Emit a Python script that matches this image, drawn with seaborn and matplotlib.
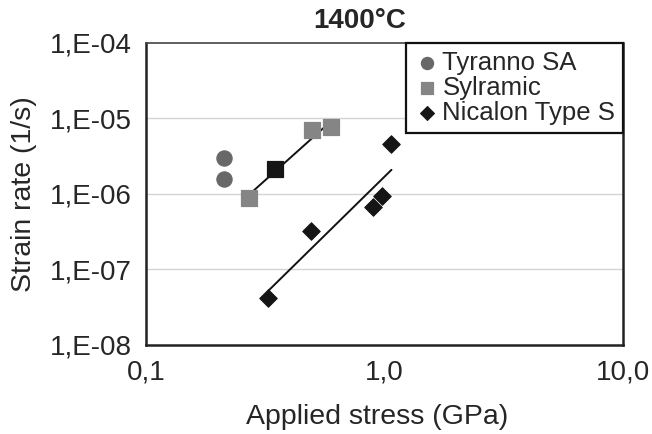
import numpy as np
import matplotlib
matplotlib.use("Agg")
import matplotlib.pyplot as plt
from matplotlib.ticker import FixedLocator, FixedFormatter
import seaborn as sns

# data (stress in GPa, strain rate in 1/s)
tyranno_x = [0.213, 0.213]
tyranno_y = [2.98e-6, 1.57e-6]

sylramic_x = [0.271, 0.498, 0.599]
sylramic_y = [8.9e-7, 6.95e-6, 7.6e-6]
sylramic_dark_x = [0.348]
sylramic_dark_y = [2.13e-6]

nicalon_x = [0.326, 0.493, 0.891, 0.981, 1.07]
nicalon_y = [4.16e-8, 3.26e-7, 6.74e-7, 9.4e-7, 4.55e-6]

x_ticks = [0.1, 1.0, 10.0]
x_tick_labels = ["0,1", "1,0", "10,0"]
y_ticks = [1e-8, 1e-7, 1e-6, 1e-5, 1e-4]
y_tick_labels = ["1,E-08", "1,E-07", "1,E-06", "1,E-05", "1,E-04"]

sns.set_style("white")
plt.rcParams["font.family"] = ["Liberation Sans", "DejaVu Sans"]

fig = plt.figure(figsize=(6.52, 4.34), dpi=100)
ax = fig.add_axes([0.2239, 0.2051, 0.7316, 0.6959])
ax.set_xscale("log")
ax.set_yscale("log")

for yv in y_ticks[1:-1]:
    ax.axhline(yv, color="#d4d4d4", lw=1.0, zorder=0)


def power_fit(xs, ys):
    lx, ly = np.log10(xs), np.log10(ys)
    k, b = np.polyfit(lx, ly, 1)
    xx = np.array([min(xs), max(xs)])
    return xx, 10 ** (b + k * np.log10(xx))


# Trendlinien (Potenzgesetz) aus den Punkten
syl_all_x = sylramic_x + sylramic_dark_x
syl_all_y = sylramic_y + sylramic_dark_y
fx, fy = power_fit(syl_all_x, syl_all_y)
ax.plot(fx, fy, color="#111111", lw=1.4, zorder=2)
fx, fy = power_fit(nicalon_x, nicalon_y)
ax.plot(fx, fy, color="#111111", lw=1.4, zorder=2)

sns.scatterplot(x=tyranno_x, y=tyranno_y, marker="o", s=120, color="#686868",
                edgecolor="#686868", label="Tyranno SA", ax=ax, zorder=3)
sns.scatterplot(x=sylramic_x, y=sylramic_y, marker="s", s=120, color="#858585",
                edgecolor="#858585", label="Sylramic", ax=ax, zorder=3)
sns.scatterplot(x=sylramic_dark_x, y=sylramic_dark_y, marker="s", s=120,
                color="#151515", edgecolor="#151515", ax=ax, zorder=3)
sns.scatterplot(x=nicalon_x, y=nicalon_y, marker="D", s=80, color="#151515",
                edgecolor="#151515", label="Nicalon Type S", ax=ax, zorder=3)

ax.set_xlim(0.1, 10.0)
ax.set_ylim(1e-8, 1e-4)
ax.xaxis.set_major_locator(FixedLocator(x_ticks))
ax.xaxis.set_major_formatter(FixedFormatter(x_tick_labels))
ax.yaxis.set_major_locator(FixedLocator(y_ticks))
ax.yaxis.set_major_formatter(FixedFormatter(y_tick_labels))
ax.minorticks_off()
ax.tick_params(axis="both", which="major", direction="out", length=7.2, width=1.6,
               color="#222222", labelsize=20, pad=3)

for side in ["left", "bottom", "right"]:
    ax.spines[side].set_color("#222222")
    ax.spines[side].set_linewidth(1.8)
ax.spines["top"].set_color("#444444")
ax.spines["top"].set_linewidth(1.2)

ax.set_xlabel("Applied stress (GPa)", fontsize=20.5)
ax.xaxis.set_label_coords(0.484, -0.195)
ax.set_ylabel("Strain rate (1/s)", fontsize=20.5)
ax.yaxis.set_label_coords(-0.228, 0.5)
ax.set_title("1400°C", fontsize=20, fontweight="bold", x=0.447, pad=11)

leg = ax.legend(loc="upper right", borderaxespad=0, fontsize=18.5, frameon=True,
                fancybox=False, handletextpad=0.1, handlelength=1.0,
                labelspacing=0.05, borderpad=0.3, markerscale=0.8)
leg.get_frame().set_edgecolor("#111111")
leg.get_frame().set_linewidth(1.6)
leg.get_frame().set_alpha(1)

fig.savefig("out.png", dpi=100)
